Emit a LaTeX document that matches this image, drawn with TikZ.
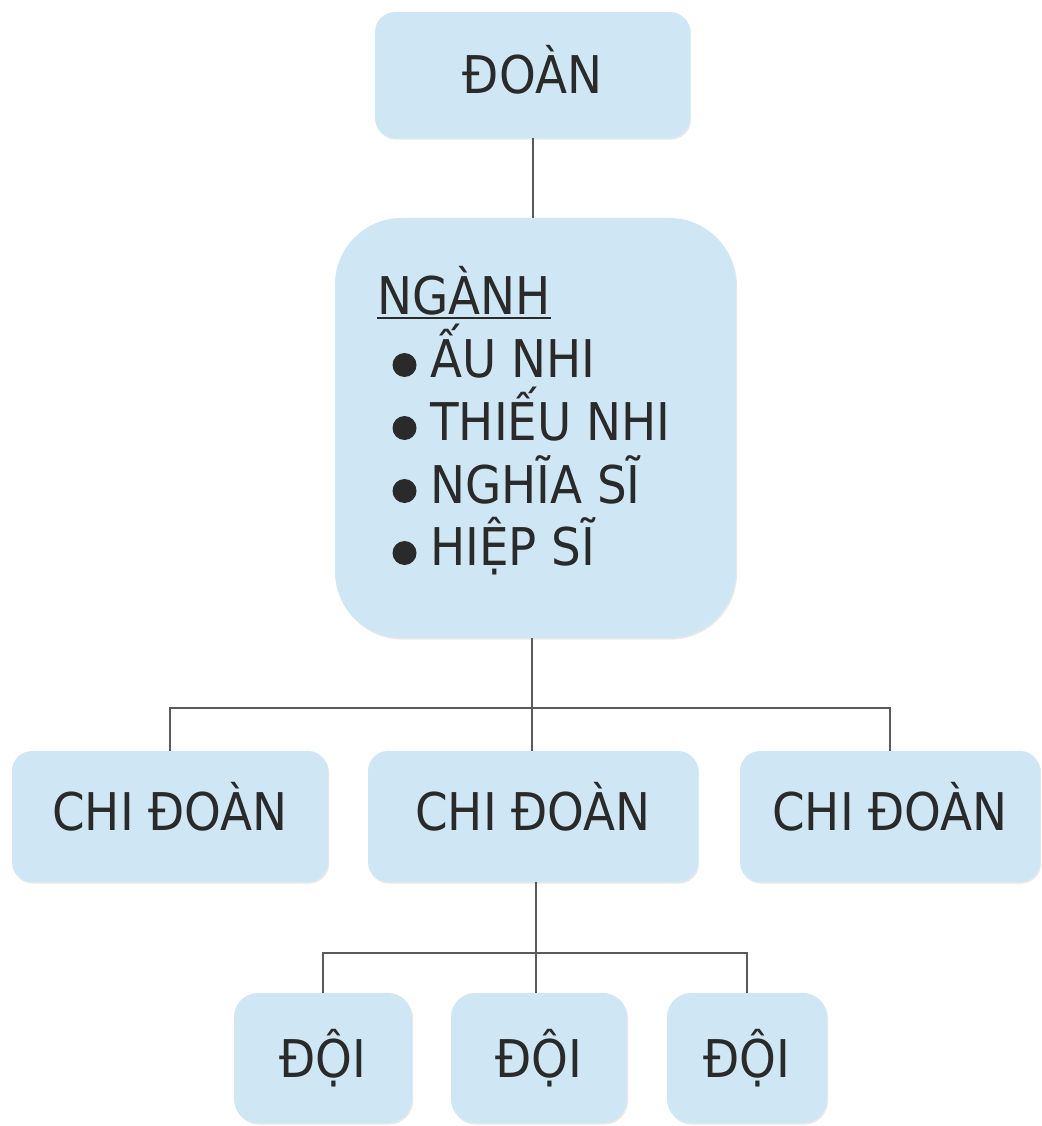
\documentclass[tikz,border=0pt]{standalone}
\usepackage{fontspec}
\setmainfont{DejaVu Sans Condensed}
\usetikzlibrary{shadows}
\definecolor{boxblue}{HTML}{CFE7F5}
\definecolor{txtc}{HTML}{2A2A2A}
\definecolor{linec}{HTML}{5A5A5A}
\tikzset{
  box/.style={rectangle, rounded corners=15pt, fill=boxblue, draw=none, inner sep=0pt,
    text=txtc, font=\fontsize{39}{47}\selectfont, text height=28.5pt, text depth=0pt,
    drop shadow={opacity=0.18, shadow xshift=0.8pt, shadow yshift=-1.2pt}},
  lbl/.style={inner sep=0pt, text=txtc, font=\fontsize{39}{47}\selectfont, anchor=base west},
  blt/.style={circle, fill=txtc, inner sep=0pt, minimum size=18pt},
  conn/.style={draw=linec, line width=1.5pt}
}
\begin{document}
\begin{tikzpicture}[x=0.75pt, y=-0.75pt]
\path[use as bounding box] (0,0) rectangle (1041,1126);
% boxes
\node[box, minimum width=236.25pt, minimum height=94.5pt] (doan) at (532.5,75) {ĐOÀN};
\node[box, rounded corners=50pt, minimum width=300.75pt, minimum height=315pt] (nganh) at (535.5,428) {};
\node[box, minimum width=237pt, minimum height=98.25pt, text depth=7.5pt] (chi1) at (170,816.5) {CHI ĐOÀN};
\node[box, minimum width=247.5pt, minimum height=98.25pt, text depth=7.5pt] (chi2) at (533,816.5) {CHI ĐOÀN};
\node[box, minimum width=225pt, minimum height=98.25pt, text depth=7.5pt] (chi3) at (890,816.5) {CHI ĐOÀN};
\node[box, rounded corners=18pt, minimum width=133.5pt, minimum height=97.5pt] (doi1) at (323,1058) {ĐỘI};
\node[box, rounded corners=18pt, minimum width=132pt, minimum height=97.5pt] (doi2) at (539,1058) {ĐỘI};
\node[box, rounded corners=18pt, minimum width=120pt, minimum height=97.5pt] (doi3) at (747,1058) {ĐỘI};
% text inside nganh
\node[lbl] (n0) at (377,315) {NGÀNH};
\draw[draw=txtc, line width=1.5pt] ([yshift=-2.6pt]n0.base west) -- ([yshift=-2.6pt]n0.base east);
\node[blt] (b1) at (404.5,365) {};
\node[lbl] (n1) at (430,377) {ẤU NHI};
\node[blt] (b2) at (404.5,428) {};
\node[lbl] (n2) at (430,440) {THIẾU NHI};
\node[blt] (b3) at (404.5,491) {};
\node[lbl] (n3) at (430,503) {NGHĨA SĨ};
\node[blt] (b4) at (404.5,553) {};
\node[lbl] (n4) at (430,565) {HIỆP SĨ};
% connectors
\coordinate (j1) at (532,708);
\coordinate (j2) at (536,953);
\draw[conn] (doan.south) -- (doan.south |- nganh.north);
\draw[conn] (j1 |- nganh.south) -- (j1);
\draw[conn] (chi1.north) |- (j1) -| (chi3.north);
\draw[conn] (j1) -- (j1 |- chi2.north);
\draw[conn] (j2 |- chi2.south) -- (j2);
\draw[conn] (doi1.north) |- (j2) -| (doi3.north);
\draw[conn] (j2) -- (j2 |- doi2.north);
\end{tikzpicture}
\end{document}
